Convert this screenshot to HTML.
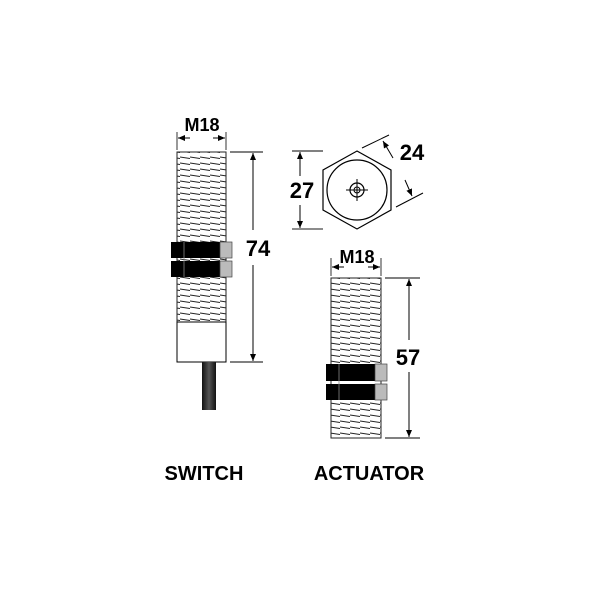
<!DOCTYPE html>
<html><head><style>body{margin:0;background:#fff}</style></head><body>
<svg width="600" height="600" viewBox="0 0 600 600" xmlns="http://www.w3.org/2000/svg" font-family="Liberation Sans, sans-serif" font-weight="bold">
<defs>
<pattern id="th" width="10" height="6" patternUnits="userSpaceOnUse">
<rect width="10" height="6" fill="#fff"/>
<line x1="0" y1="1" x2="10" y2="2.5" stroke="#222" stroke-width="1"/>
</pattern>
<linearGradient id="cab" x1="0" x2="1">
<stop offset="0" stop-color="#111"/><stop offset="0.5" stop-color="#555"/><stop offset="1" stop-color="#111"/>
</linearGradient>
<marker id="ar" markerWidth="8" markerHeight="8" refX="7" refY="4" orient="auto" markerUnits="userSpaceOnUse"><path d="M0,1 L7,4 L0,7 Z" fill="#000"/></marker>
</defs>
<!-- SWITCH -->
<rect x="177" y="152" width="49" height="170" fill="url(#th)" stroke="#222" stroke-width="1"/>
<rect x="177" y="322" width="49" height="40" fill="#fff" stroke="#000" stroke-width="1"/>
<rect x="202" y="362" width="14" height="48" fill="url(#cab)"/>
<rect x="171" y="242" width="50" height="16" fill="#000"/><rect x="220" y="242" width="12" height="16" fill="#bbb" stroke="#444" stroke-width="0.7"/>
<rect x="171" y="261" width="50" height="16" fill="#000"/><rect x="220" y="261" width="12" height="16" fill="#bbb" stroke="#444" stroke-width="0.7"/>
<line x1="184" y1="242" x2="184" y2="277" stroke="#888" stroke-width="0.8"/>
<line x1="177" y1="132" x2="177" y2="150" stroke="#000" stroke-width="0.8"/>
<line x1="226" y1="132" x2="226" y2="150" stroke="#000" stroke-width="0.8"/>
<line x1="190" y1="138" x2="178" y2="138" stroke="#000" marker-end="url(#ar)"/>
<line x1="213" y1="138" x2="225" y2="138" stroke="#000" marker-end="url(#ar)"/>
<text x="202" y="131" font-size="18" text-anchor="middle">M18</text>
<line x1="230" y1="152" x2="263" y2="152" stroke="#000"/>
<line x1="230" y1="362" x2="263" y2="362" stroke="#000"/>
<line x1="253" y1="230" x2="253" y2="153" stroke="#000" marker-end="url(#ar)"/>
<line x1="253" y1="265" x2="253" y2="361" stroke="#000" marker-end="url(#ar)"/>
<text x="258" y="256" font-size="22" text-anchor="middle">74</text>
<!-- HEX -->
<polygon points="357,151 391,170 391,210 357,229 323,210 323,170" fill="#fff" stroke="#000" stroke-width="1.2"/>
<circle cx="357" cy="190" r="30" fill="none" stroke="#000" stroke-width="1.2"/>
<circle cx="357" cy="190" r="7" fill="none" stroke="#000" stroke-width="1.2"/>
<circle cx="357" cy="190" r="3" fill="none" stroke="#000" stroke-width="1"/>
<line x1="346" y1="190" x2="368" y2="190" stroke="#000"/>
<line x1="357" y1="179" x2="357" y2="201" stroke="#000"/>
<line x1="292" y1="151" x2="323" y2="151" stroke="#000"/>
<line x1="292" y1="229" x2="323" y2="229" stroke="#000" stroke-width="1.5" stroke-opacity="0.6"/>
<line x1="300" y1="176" x2="300" y2="152" stroke="#000" marker-end="url(#ar)"/>
<line x1="300" y1="205" x2="300" y2="228" stroke="#000" marker-end="url(#ar)"/>
<text x="302" y="198" font-size="22" text-anchor="middle">27</text>
<line x1="362" y1="148" x2="389" y2="135" stroke="#000"/>
<line x1="396" y1="207" x2="423" y2="193" stroke="#000"/>
<line x1="393" y1="158" x2="383" y2="141" stroke="#000" marker-end="url(#ar)"/>
<line x1="405" y1="180" x2="412" y2="196" stroke="#000" marker-end="url(#ar)"/>
<text x="412" y="160" font-size="22" text-anchor="middle">24</text>
<!-- ACTUATOR -->
<rect x="331" y="278" width="50" height="160" fill="url(#th)" stroke="#222" stroke-width="1"/>
<rect x="326" y="364" width="50" height="17" fill="#000"/><rect x="375" y="364" width="12" height="17" fill="#bbb" stroke="#444" stroke-width="0.7"/>
<rect x="326" y="384" width="50" height="16" fill="#000"/><rect x="375" y="384" width="12" height="16" fill="#bbb" stroke="#444" stroke-width="0.7"/>
<line x1="339" y1="364" x2="339" y2="400" stroke="#888" stroke-width="0.8"/>
<line x1="331" y1="258" x2="331" y2="276" stroke="#000" stroke-width="0.8"/>
<line x1="381" y1="258" x2="381" y2="276" stroke="#000" stroke-width="0.8"/>
<line x1="344" y1="267" x2="332" y2="267" stroke="#000" marker-end="url(#ar)"/>
<line x1="368" y1="267" x2="380" y2="267" stroke="#000" marker-end="url(#ar)"/>
<text x="357" y="263" font-size="18" text-anchor="middle">M18</text>
<line x1="385" y1="278" x2="420" y2="278" stroke="#000"/>
<line x1="385" y1="438" x2="420" y2="438" stroke="#000"/>
<line x1="409" y1="340" x2="409" y2="279" stroke="#000" marker-end="url(#ar)"/>
<line x1="409" y1="372" x2="409" y2="437" stroke="#000" marker-end="url(#ar)"/>
<text x="408" y="365" font-size="22" text-anchor="middle">57</text>
<text x="204" y="480" font-size="20" text-anchor="middle">SWITCH</text>
<text x="369" y="480" font-size="20" text-anchor="middle">ACTUATOR</text>
</svg>
</body></html>
